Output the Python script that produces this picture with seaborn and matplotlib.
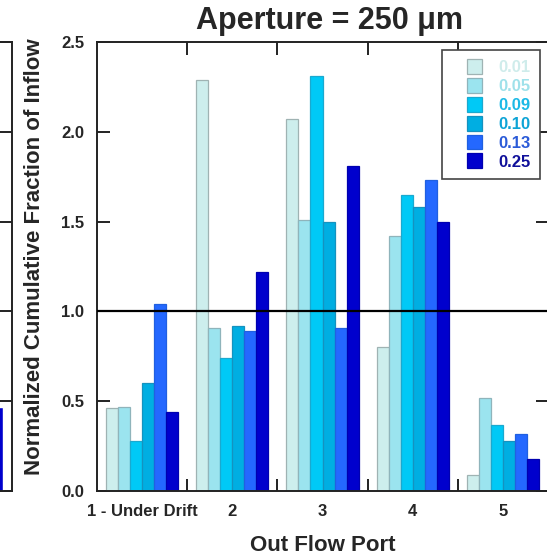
import numpy as np
import pandas as pd
import seaborn as sns
import matplotlib.pyplot as plt
from matplotlib.patches import Patch, Rectangle
from matplotlib.legend_handler import HandlerPatch

# data
ports = ["1 - Under Drift", "2", "3", "4", "5"]
apertures = ["0.01", "0.05", "0.09", "0.10", "0.13", "0.25"]
vals_001 = [0.46, 2.29, 2.07, 0.80, 0.09]
vals_005 = [0.47, 0.91, 1.51, 1.42, 0.52]
vals_009 = [0.28, 0.74, 2.31, 1.65, 0.37]
vals_010 = [0.60, 0.92, 1.50, 1.58, 0.28]
vals_013 = [1.04, 0.89, 0.91, 1.73, 0.32]
vals_025 = [0.44, 1.22, 1.81, 1.50, 0.18]
# only the last bar of the neighbouring panel shows at the left edge
left_panel_last = 0.47

bar_colors = ["#cdeeed", "#9be4ef", "#00c9f6", "#00aee2", "#2468ff", "#0000cd"]
edge_colors = ["#9fb3b3", "#8fb4bb", "#1aa9cf", "#1592bf", "#2060e0", "#0000b0"]
text_colors = ["#cfeceb", "#9fe1ea", "#1cb9e6", "#0ea4d6", "#2b5bd8", "#10109a"]

series = [vals_001, vals_005, vals_009, vals_010, vals_013, vals_025]
df = pd.DataFrame({
    "port": np.tile(ports, len(apertures)),
    "aperture": np.repeat(apertures, len(ports)),
    "value": np.concatenate(series),
})
df_left = pd.DataFrame({"port": [ports[-1]], "aperture": [apertures[-1]],
                        "value": [left_panel_last]})

sns.set_style("ticks")
plt.rcParams["font.family"] = ["Liberation Sans", "DejaVu Sans"]
plt.rcParams["font.weight"] = "bold"

W, H = 547, 555
fig = plt.figure(figsize=(W / 100, H / 100), dpi=100)
x0, x1, y_top, y_bot = 97, 548, 42, 491
ax = fig.add_axes([x0 / W, 1 - y_bot / H, (x1 - x0) / W, (y_bot - y_top) / H])
ax0 = fig.add_axes([(12 - (x1 - x0)) / W, 1 - y_bot / H, (x1 - x0) / W, (y_bot - y_top) / H])
ax0.patch.set_visible(False)

pal = dict(zip(apertures, bar_colors))
sns.barplot(data=df, x="port", y="value", hue="aperture", order=ports,
            hue_order=apertures, palette=pal, saturation=1, width=0.8,
            legend=False, ax=ax)
sns.barplot(data=df_left, x="port", y="value", hue="aperture", order=ports,
            hue_order=apertures, palette=pal, saturation=1, width=0.8,
            legend=False, ax=ax0)

for cont, ec in zip(ax.containers, edge_colors):
    for p in cont:
        p.set_edgecolor(ec)
        p.set_linewidth(0.9)

ax.axhline(1.0, color="black", lw=1.6, zorder=5)

for a in (ax, ax0):
    a.set_xlim(-0.5, len(ports) - 0.5)
    a.set_ylim(0, 2.5)
    for s in a.spines.values():
        s.set_visible(True)
        s.set_linewidth(1.4)
        s.set_color("#222222")
    a.set_yticks(np.arange(0, 2.51, 0.5))
    a.set_xticks(np.arange(0.5, len(ports) - 1, 1), minor=True)
    a.tick_params(axis="both", which="both", direction="in", length=9, width=1.4,
                  color="#222222", top=True, right=True)
    a.tick_params(axis="x", which="major", length=0, pad=9)
    a.tick_params(axis="y", which="major", pad=9)

ax0.set_xticklabels([])
ax0.set_yticklabels([])
ax0.set_xlabel("")
ax0.set_ylabel("")

ax.set_yticklabels([f"{v:.1f}" for v in np.arange(0, 2.51, 0.5)],
                   fontsize=12, fontweight="bold")
ax.set_xticks(range(len(ports)))
ax.set_xticklabels(ports, fontsize=12, fontweight="bold")
ax.set_xlabel("Out Flow Port", fontsize=16, fontweight="bold", labelpad=12)
ax.set_ylabel("Normalized Cumulative Fraction of Inflow", fontsize=16,
              fontweight="bold")
ax.yaxis.set_label_coords((45 - x0) / (x1 - x0), 0.522)
fig.text(330 / W, 1 - 21 / H, "Aperture = 250 \u03bcm", ha="center", va="center",
         fontsize=22, fontweight="bold")


def square_patch(legend, orig_handle, xdescent, ydescent, width, height, fontsize):
    # square swatch sitting at the right end of the handle box
    return Rectangle((-xdescent + width - height, -ydescent), height, height)


handles = [Patch(facecolor=c, edgecolor=e, linewidth=0.9)
           for c, e in zip(bar_colors, edge_colors)]
leg = ax.legend(handles, apertures, loc="upper right",
                bbox_to_anchor=(0.982, 0.982), borderaxespad=0,
                fancybox=False, edgecolor="#444444", framealpha=1,
                prop={"size": 12, "weight": "bold"}, handlelength=1.85,
                handleheight=1.0, labelspacing=0.16, handletextpad=1.0,
                borderpad=0.55,
                handler_map={Patch: HandlerPatch(patch_func=square_patch)})
leg.get_frame().set_linewidth(1.2)
for txt, c in zip(leg.get_texts(), text_colors):
    txt.set_color(c)

fig.savefig("out.png", dpi=100)
